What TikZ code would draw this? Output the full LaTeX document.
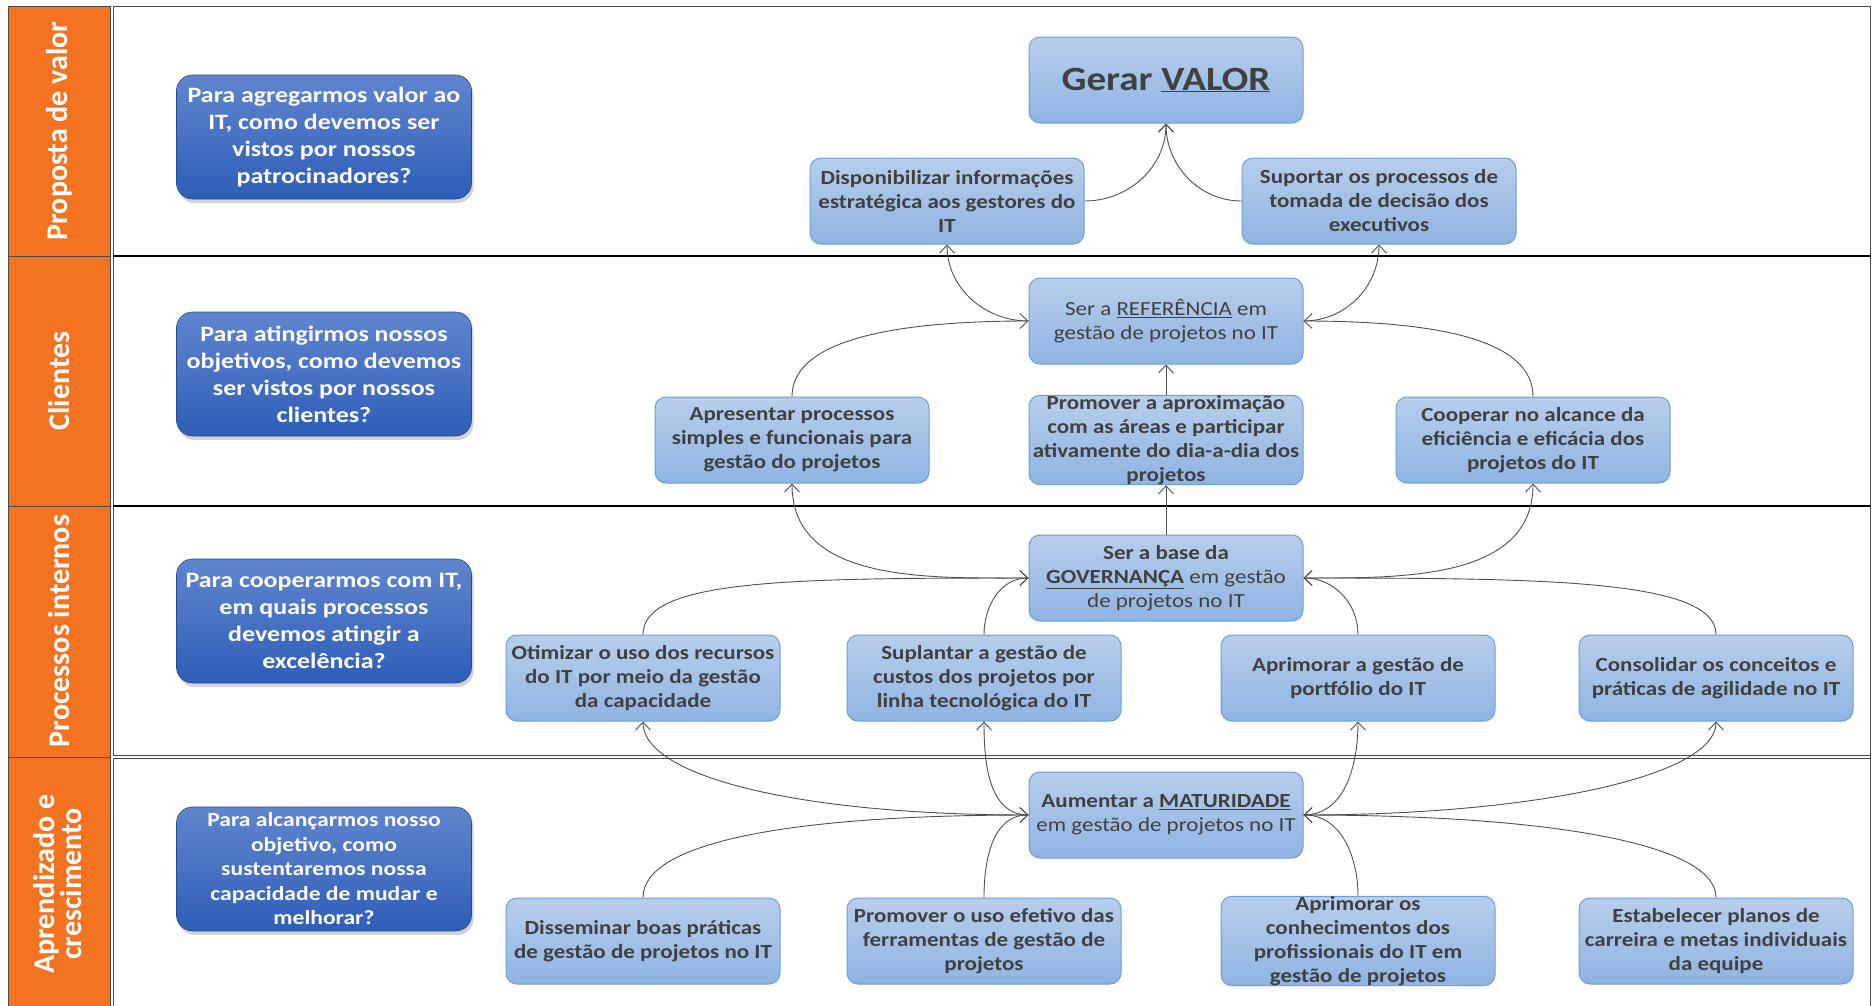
\documentclass[tikz,border=0pt]{standalone}
\usepackage{fontspec}
\setmainfont{Carlito}
\newfontfamily\boxfont[FakeStretch=1.15]{Carlito}
\newfontfamily\qfont[FakeStretch=1.18]{Carlito}
\usetikzlibrary{calc,arrows.meta,shadows,positioning}

\definecolor{laranja}{RGB}{244,115,33}
\definecolor{caixatopo}{RGB}{183,206,235}
\definecolor{caixabase}{RGB}{143,180,226}
\definecolor{caixaborda}{RGB}{108,158,215}
\definecolor{textoescuro}{RGB}{64,64,64}
\definecolor{azultopo}{RGB}{96,133,206}
\definecolor{azulbase}{RGB}{46,94,184}
\definecolor{cinzaseta}{RGB}{80,80,80}

\tikzset{
  objetivo/.style={rectangle, rounded corners=11pt, draw=caixaborda, line width=1pt,
    top color=caixatopo, bottom color=caixabase, minimum width=274pt, minimum height=86pt,
    inner sep=0pt, align=center, text=textoescuro,
    font=\boxfont\bfseries\fontsize{20}{24}\selectfont},
  pergunta/.style={rectangle, rounded corners=16pt, draw=azulbase!80!black, line width=0.6pt,
    top color=azultopo, bottom color=azulbase, minimum width=295pt, minimum height=124pt,
    inner sep=0pt, align=center, text=white,
    font=\qfont\bfseries\fontsize{22}{27}\selectfont,
    drop shadow={shadow xshift=2pt, shadow yshift=-4pt, opacity=0.35}},
  faixa/.style={rotate=90, text=white, align=center, font=\bfseries\fontsize{30}{27}\selectfont},
  liga/.style={draw=cinzaseta, line width=0.9pt, -{Straight Barb[length=8pt,width=15pt]}},
  longa/.style={out distance=#1, in distance=55pt},
  longb/.style={out distance=55pt, in distance=#1},
}

\begin{document}
\begin{tikzpicture}[x=1pt,y=1pt]
    \useasboundingbox (0,0) rectangle (1872,-1005);

    % faixas e quadros
    \foreach \ya/\yb in {6/256, 256/506, 506/757, 757/1012}
    {
        \draw[fill=laranja, draw=gray!60!black, line width=1pt] (8,-\ya) rectangle (110,-\yb);
        \draw[gray!60!black, line width=1pt] (113,-\ya) rectangle (1870,-\yb);
    };
    \draw[line width=2.5pt] (113,-256) -- (1870,-256);
    \draw[line width=2.5pt] (113,-506) -- (1870,-506);
    \draw[gray!60!black, double, double distance=2pt, line width=0.8pt] (113,-757) -- (1870,-757);

    \node[faixa] (lprop) at (59,-131) {Proposta de valor};
    \node[faixa] (lcli) at (59,-381) {Clientes};
    \node[faixa] (lproc) at (59,-631) {Processos internos};
    \node[faixa] (lapr) at (58,-884) {Aprendizado e\\crescimento};

    % perguntas
    \node[pergunta] (q1) at (324,-137) {Para agregarmos valor ao\\IT, como  devemos ser\\vistos por nossos\\patrocinadores?};
    \node[pergunta] (q2) at (324,-374) {Para atingirmos nossos\\objetivos, como devemos\\ser vistos por nossos\\clientes?};
    \node[pergunta] (q3) at (324,-621) {Para cooperarmos  com IT,\\em quais processos\\devemos atingir a\\excelência?};
    \node[pergunta, font=\qfont\bfseries\fontsize{20}{24.5}\selectfont] (q4) at (324,-869) {Para alcançarmos nosso\\objetivo, como\\sustentaremos nossa\\capacidade de mudar e\\melhorar?};

    % objetivos
    \node[objetivo, font=\boxfont\bfseries\fontsize{34}{40}\selectfont] (valor) at (1166,-80) {Gerar \underline{VALOR}};
    \node[objetivo] (dispon) at (947,-201) {Disponibilizar informações\\estratégica aos gestores do\\IT};
    \node[objetivo] (suport) at (1379,-201) {Suportar os processos de\\tomada de decisão dos\\executivos};

    \node[objetivo, font=\boxfont\mdseries\fontsize{20}{24}\selectfont] (refer) at (1166,-321) {Ser a \underline{REFERÊNCIA} em\\gestão de projetos no IT};
    \node[objetivo] (apres) at (792,-440) {Apresentar processos\\simples e funcionais para\\gestão do projetos};
    \node[objetivo] (aprox) at (1166,-440) {Promover a aproximação\\com as áreas e participar\\ativamente do dia-a-dia dos\\projetos};
    \node[objetivo] (coop) at (1533,-440) {Cooperar no alcance da\\eficiência e eficácia dos\\projetos do IT};

    \node[objetivo] (gov) at (1166,-578) {Ser a base da\\\underline{GOVERNANÇA} {\mdseries em gestão}\\{\mdseries de projetos  no IT}};
    \node[objetivo] (otim) at (643,-678) {Otimizar o uso dos recursos\\do IT por meio da gestão\\da capacidade};
    \node[objetivo] (supl) at (984,-678) {Suplantar a gestão de\\custos dos projetos por\\linha tecnológica do IT};
    \node[objetivo] (aprim) at (1358,-678) {Aprimorar a gestão de\\portfólio do IT};
    \node[objetivo] (consol) at (1716,-678) {Consolidar os conceitos e\\práticas de agilidade  no IT};

    \node[objetivo] (mat) at (1166,-815) {Aumentar a \underline{MATURIDADE}\\{\mdseries em gestão de projetos no IT}};
    \node[objetivo] (dissem) at (643,-941) {Disseminar boas práticas\\de gestão de projetos no IT};
    \node[objetivo] (usoef) at (984,-941) {Promover o uso efetivo das\\ferramentas de gestão de\\projetos};
    \node[objetivo] (conhec) at (1358,-941) {Aprimorar os\\conhecimentos dos\\profissionais do IT em\\gestão de projetos};
    \node[objetivo] (estab) at (1716,-941) {Estabelecer planos de\\carreira e metas individuais\\da equipe};

    % ligacoes
    \draw[liga] (dispon.east) to[out=0,in=-90] (valor.south);
    \draw[liga] (suport.west) to[out=180,in=-90] (valor.south);
    \draw[liga] (refer.west) to[out=180,in=-90] (dispon.south);
    \draw[liga] (refer.east) to[out=0,in=-90] (suport.south);
    \draw[liga] (apres.north) to[out=90,in=180,longb=140pt] (refer.west);
    \draw[liga] (coop.north) to[out=90,in=0,longb=140pt] (refer.east);
    \draw[liga] (aprox.north) -- (refer.south);

    \draw[liga] (gov.west) to[out=180,in=-90] (apres.south);
    \draw[liga] (gov.north) -- (aprox.south);
    \draw[liga] (gov.east) to[out=0,in=-90] (coop.south);
    \draw[liga] (otim.north) to[out=90,in=180,longb=240pt] (gov.west);
    \draw[liga] (supl.north) to[out=90,in=180] (gov.west);
    \draw[liga] (aprim.north) to[out=90,in=0] (gov.east);
    \draw[liga] (consol.north) to[out=90,in=0,longb=240pt] (gov.east);

    \draw[liga] (mat.west) to[out=180,in=-90,longa=230pt] (otim.south);
    \draw[liga] (mat.west) to[out=180,in=-90] (supl.south);
    \draw[liga] (mat.east) to[out=0,in=-90] (aprim.south);
    \draw[liga] (mat.east) to[out=0,in=-90,longa=230pt] (consol.south);
    \draw[liga] (dissem.north) to[out=90,in=180,longb=240pt] (mat.west);
    \draw[liga] (usoef.north) to[out=90,in=180] (mat.west);
    \draw[liga] (conhec.north) to[out=90,in=0] (mat.east);
    \draw[liga] (estab.north) to[out=90,in=0,longb=240pt] (mat.east);
\end{tikzpicture}
\end{document}
